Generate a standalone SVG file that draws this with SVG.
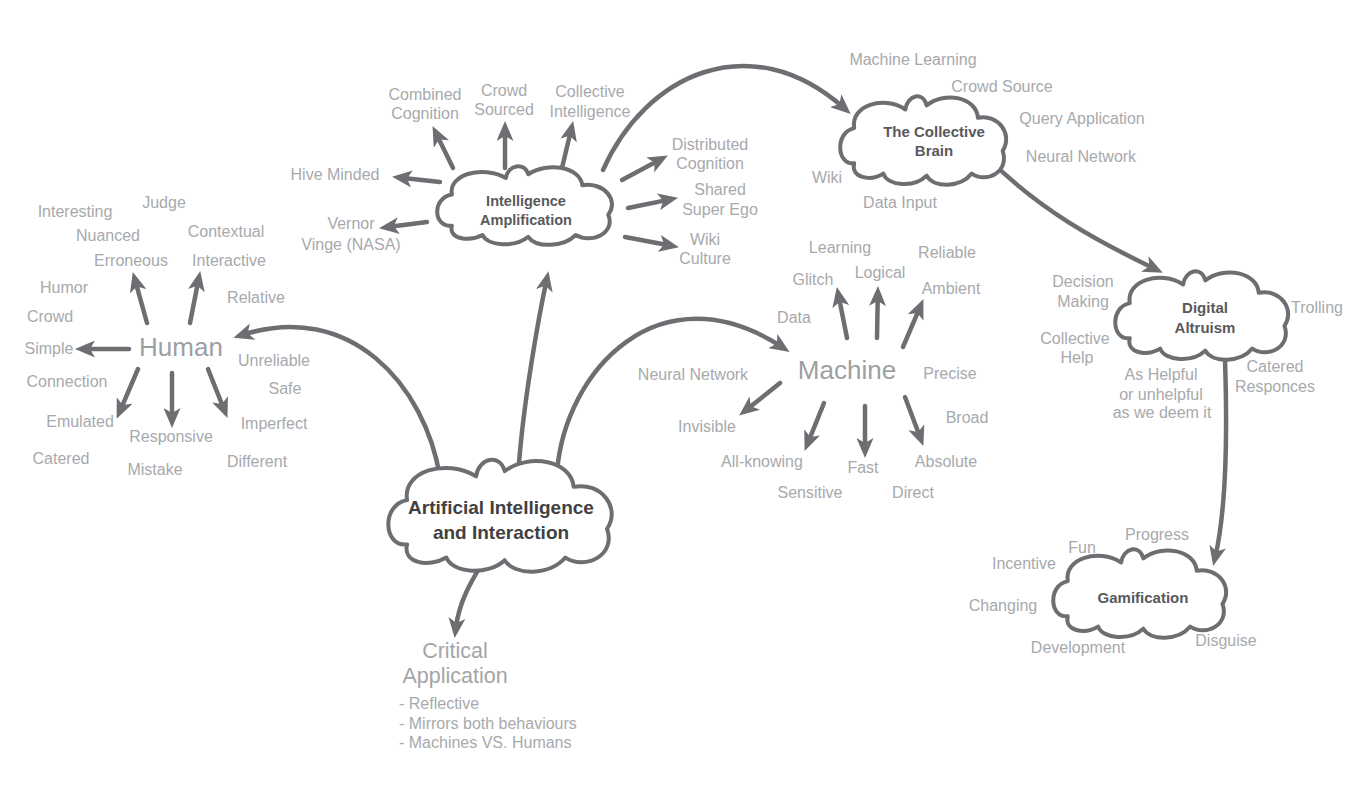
<svg xmlns="http://www.w3.org/2000/svg" xmlns:xlink="http://www.w3.org/1999/xlink" width="1370" height="796" viewBox="0 0 1370 796">
<style>
text{font-family:"Liberation Sans",Arial,Helvetica,sans-serif;text-anchor:middle}
.lbl{font-size:16px;fill:#a7a9ac}
.big{font-size:26px;fill:#9d9fa2}
.crit{font-size:21.5px;fill:#a3a5a8}
.sub{font-size:16px;fill:#a7a9ac;text-anchor:start}
.title{font-size:15px;font-weight:bold;fill:#58595b}
.main{font-size:19px;font-weight:bold;fill:#414042}
.conn{fill:none;stroke:#6d6e71;stroke-width:4.5;stroke-linecap:round;marker-end:url(#ah)}
.cloud{fill:#ffffff;stroke:#6d6e71;stroke-width:4;stroke-linejoin:round}
</style>
<defs>
<marker id="ah" markerUnits="userSpaceOnUse" markerWidth="21" markerHeight="17" viewBox="0 0 21 17" refX="11" refY="8.5" orient="auto">
<path d="M0,0 L20,8.5 L0,17 L5,8.5 Z" fill="#6d6e71"/>
</marker>
<path id="cloudShape" class="cloud" vector-effect="non-scaling-stroke" d="M22,78 C2,80 0,48 22,44 C18,22 55,12 80,26 C82,12 100,8 104,22 C125,8 160,14 162,34 C185,30 202,50 190,66 C198,86 172,98 155,88 C142,102 112,102 104,90 C90,102 60,100 55,88 C40,96 18,92 22,78 Z"/>
</defs>
<rect width="1370" height="796" fill="#ffffff"/>

<g id="connectors">
<path class="conn" d="M440,477 C425,385 350,300 242,335"/>
<path class="conn" d="M519,463 C524,400 538,320 546.6,280"/>
<path class="conn" d="M557,472 C565,370 660,268 782,347"/>
<path class="conn" d="M490,550 C472,580 459,600 455.7,629"/>
<path class="conn" d="M603,170 C645,75 750,25 844,108"/>
<path class="conn" d="M990,160 C1040,210 1095,240 1154.7,268.8"/>
<path class="conn" d="M1225,360 C1228,450 1225,515 1215.2,557.3"/>
<!-- Human spokes -->
<line class="conn" x1="147" y1="323" x2="135.2" y2="280.7"/>
<line class="conn" x1="190" y1="323" x2="198.5" y2="279.8"/>
<line class="conn" x1="129" y1="349" x2="84" y2="349"/>
<line class="conn" x1="138" y1="369" x2="120.2" y2="410.6"/>
<line class="conn" x1="172" y1="373" x2="172" y2="419"/>
<line class="conn" x1="208" y1="369" x2="224.1" y2="409.6"/>
<!-- IA spokes -->
<line class="conn" x1="453" y1="168" x2="436.5" y2="134.2"/>
<line class="conn" x1="505" y1="168" x2="505" y2="130"/>
<line class="conn" x1="562" y1="168" x2="571.1" y2="129.8"/>
<line class="conn" x1="440" y1="182" x2="401" y2="177.8"/>
<line class="conn" x1="427" y1="222" x2="387.9" y2="227"/>
<line class="conn" x1="622" y1="180" x2="659.9" y2="159.8"/>
<line class="conn" x1="628" y1="208" x2="669.2" y2="199.6"/>
<line class="conn" x1="625" y1="237" x2="670.1" y2="245.5"/>
<!-- Machine spokes -->
<line class="conn" x1="847" y1="338" x2="838.6" y2="295.8"/>
<line class="conn" x1="877" y1="338" x2="877.8" y2="295"/>
<line class="conn" x1="903" y1="347" x2="919.9" y2="307.4"/>
<line class="conn" x1="780" y1="383" x2="746.2" y2="410"/>
<line class="conn" x1="824" y1="403" x2="808" y2="442.6"/>
<line class="conn" x1="865" y1="406" x2="865" y2="449"/>
<line class="conn" x1="905" y1="397" x2="920.2" y2="437.5"/>
</g>

<g id="node-ai">
<use xlink:href="#cloudShape" transform="translate(380.9,442.3) scale(1.19,1.31)"/>
<text class="main" x="501" y="514">Artificial Intelligence</text>
<text class="main" x="501" y="539">and Interaction</text>
</g>

<g id="node-ia">
<use xlink:href="#cloudShape" transform="translate(431.4,154) scale(0.931,0.92)"/>
<text class="title" x="526" y="206" style="font-size:14.5px">Intelligence</text>
<text class="title" x="526" y="225" style="font-size:14.5px">Amplification</text>
</g>

<g id="node-brain">
<use xlink:href="#cloudShape" transform="translate(834.7,82.6) scale(0.884,1.034)"/>
<text class="title" x="934" y="137">The Collective</text>
<text class="title" x="934" y="156">Brain</text>
</g>

<g id="node-altruism">
<use xlink:href="#cloudShape" transform="translate(1109.5,257.6) scale(0.921,1.034)"/>
<text class="title" x="1205" y="313">Digital</text>
<text class="title" x="1205" y="333">Altruism</text>
</g>

<g id="node-gamification">
<use xlink:href="#cloudShape" transform="translate(1047.5,535.6) scale(0.921,1.034)"/>
<text class="title" x="1143" y="603">Gamification</text>
</g>

<g id="node-human">
<text class="big" x="181" y="356">Human</text>
</g>

<g id="node-machine">
<text class="big" x="847" y="379">Machine</text>
</g>

<g id="node-critical">
<text class="crit" x="455" y="658">Critical</text>
<text class="crit" x="455" y="683">Application</text>
<text class="sub" x="399" y="709">- Reflective</text>
<text class="sub" x="399" y="729">- Mirrors both behaviours</text>
<text class="sub" x="399" y="748">- Machines VS. Humans</text>
</g>

<g id="labels-human">
<text class="lbl" x="75" y="217">Interesting</text>
<text class="lbl" x="164" y="208">Judge</text>
<text class="lbl" x="108" y="241">Nuanced</text>
<text class="lbl" x="226" y="237">Contextual</text>
<text class="lbl" x="131" y="266">Erroneous</text>
<text class="lbl" x="229" y="266">Interactive</text>
<text class="lbl" x="64" y="293">Humor</text>
<text class="lbl" x="256" y="303">Relative</text>
<text class="lbl" x="50" y="322">Crowd</text>
<text class="lbl" x="49" y="354">Simple</text>
<text class="lbl" x="274" y="366">Unreliable</text>
<text class="lbl" x="67" y="387">Connection</text>
<text class="lbl" x="285" y="394">Safe</text>
<text class="lbl" x="80" y="427">Emulated</text>
<text class="lbl" x="274" y="429">Imperfect</text>
<text class="lbl" x="171" y="442">Responsive</text>
<text class="lbl" x="61" y="464">Catered</text>
<text class="lbl" x="257" y="467">Different</text>
<text class="lbl" x="155" y="475">Mistake</text>
</g>

<g id="labels-ia">
<text class="lbl" x="425" y="100">Combined</text>
<text class="lbl" x="425" y="119">Cognition</text>
<text class="lbl" x="504" y="96">Crowd</text>
<text class="lbl" x="504" y="115">Sourced</text>
<text class="lbl" x="590" y="97">Collective</text>
<text class="lbl" x="590" y="117">Intelligence</text>
<text class="lbl" x="335" y="180">Hive Minded</text>
<text class="lbl" x="351" y="229">Vernor</text>
<text class="lbl" x="351" y="250">Vinge (NASA)</text>
<text class="lbl" x="710" y="150">Distributed</text>
<text class="lbl" x="710" y="169">Cognition</text>
<text class="lbl" x="720" y="195">Shared</text>
<text class="lbl" x="720" y="215">Super Ego</text>
<text class="lbl" x="705" y="245">Wiki</text>
<text class="lbl" x="705" y="264">Culture</text>
</g>

<g id="labels-brain">
<text class="lbl" x="913" y="65">Machine Learning</text>
<text class="lbl" x="1002" y="92">Crowd Source</text>
<text class="lbl" x="1082" y="124">Query Application</text>
<text class="lbl" x="1081" y="162">Neural Network</text>
<text class="lbl" x="827" y="183">Wiki</text>
<text class="lbl" x="900" y="208">Data Input</text>
</g>

<g id="labels-machine">
<text class="lbl" x="840" y="253">Learning</text>
<text class="lbl" x="947" y="258">Reliable</text>
<text class="lbl" x="813" y="285">Glitch</text>
<text class="lbl" x="880" y="278">Logical</text>
<text class="lbl" x="951" y="294">Ambient</text>
<text class="lbl" x="794" y="323">Data</text>
<text class="lbl" x="693" y="380">Neural Network</text>
<text class="lbl" x="950" y="379">Precise</text>
<text class="lbl" x="967" y="423">Broad</text>
<text class="lbl" x="707" y="432">Invisible</text>
<text class="lbl" x="762" y="467">All-knowing</text>
<text class="lbl" x="863" y="473">Fast</text>
<text class="lbl" x="946" y="467">Absolute</text>
<text class="lbl" x="810" y="498">Sensitive</text>
<text class="lbl" x="913" y="498">Direct</text>
</g>

<g id="labels-altruism">
<text class="lbl" x="1083" y="287">Decision</text>
<text class="lbl" x="1083" y="307">Making</text>
<text class="lbl" x="1075" y="344">Collective</text>
<text class="lbl" x="1077" y="363">Help</text>
<text class="lbl" x="1317" y="313">Trolling</text>
<text class="lbl" x="1275" y="372">Catered</text>
<text class="lbl" x="1275" y="392">Responces</text>
<text class="lbl" x="1161" y="380">As Helpful</text>
<text class="lbl" x="1161" y="400">or unhelpful</text>
<text class="lbl" x="1162" y="418">as we deem it</text>
</g>

<g id="labels-gamification">
<text class="lbl" x="1157" y="540">Progress</text>
<text class="lbl" x="1082" y="553">Fun</text>
<text class="lbl" x="1024" y="569">Incentive</text>
<text class="lbl" x="1003" y="611">Changing</text>
<text class="lbl" x="1078" y="653">Development</text>
<text class="lbl" x="1226" y="646">Disguise</text>
</g>
</svg>
